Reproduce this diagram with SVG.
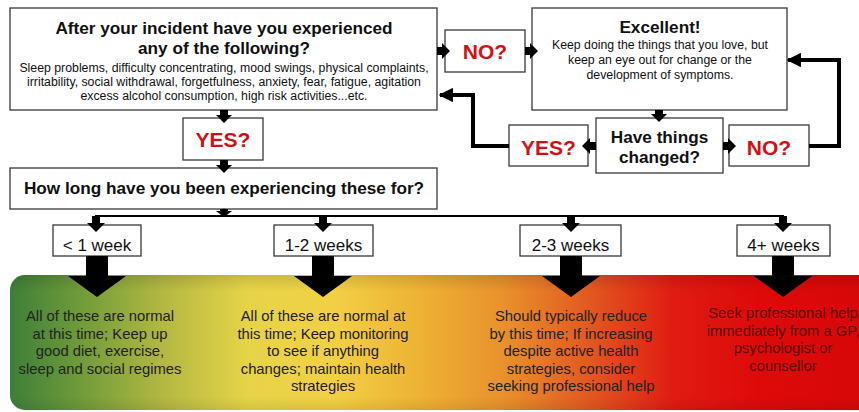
<svg xmlns="http://www.w3.org/2000/svg" width="859" height="412" viewBox="0 0 859 412">
<defs>
<linearGradient id="band" gradientUnits="userSpaceOnUse" x1="10" y1="0" x2="859" y2="0">
<stop offset="0" stop-color="#3d7f38"/>
<stop offset="0.08" stop-color="#6e9a3a"/>
<stop offset="0.18" stop-color="#b3b842"/>
<stop offset="0.28" stop-color="#e6d448"/>
<stop offset="0.38" stop-color="#f2d044"/>
<stop offset="0.48" stop-color="#eeb334"/>
<stop offset="0.58" stop-color="#e8922c"/>
<stop offset="0.68" stop-color="#e25a20"/>
<stop offset="0.78" stop-color="#e01c12"/>
<stop offset="0.88" stop-color="#de0a0a"/>
<stop offset="1" stop-color="#d80808"/>
</linearGradient>
<linearGradient id="shade" x1="0" y1="0" x2="0" y2="1">
<stop offset="0" stop-color="#000" stop-opacity="0.12"/>
<stop offset="0.12" stop-color="#000" stop-opacity="0"/>
<stop offset="0.9" stop-color="#000" stop-opacity="0"/>
<stop offset="1" stop-color="#000" stop-opacity="0.08"/>
</linearGradient>
<marker id="ah" viewBox="0 0 10 10" refX="9" refY="5" markerWidth="3.6" markerHeight="3.6" orient="auto" markerUnits="strokeWidth">
<path d="M0,0 L10,5 L0,10 z" fill="#000"/>
</marker>
</defs>
<style>
.box{fill:#fff;stroke:#3a3a3a;stroke-width:1.3}
.t{font-family:"Liberation Sans",Arial,sans-serif;text-anchor:middle;fill:#111}
.h{font-size:17.2px;font-weight:bold}
.s{font-size:12.3px}
.r{font-size:21px;font-weight:bold;fill:#d40f14}
.w{font-size:17px}
.c{font-size:14.8px;fill:#222}
.c4{font-size:14.8px;fill:#5a0808}
.line{fill:none;stroke:#000;stroke-width:4;marker-end:url(#ah)}
.thin{fill:none;stroke:#000;stroke-width:2}
.blk{fill:#000}
</style>
<rect width="859" height="412" fill="#fff"/>

<g id="band-bg">
<rect x="10" y="275" width="870" height="135" rx="15" fill="url(#band)"/>
<rect x="10" y="275" width="870" height="135" rx="15" fill="url(#shade)"/>
</g>

<g id="n-incident">
<rect class="box" x="10" y="8" width="427" height="102"/>
<text class="t h" x="224" y="34">After your incident have you experienced</text>
<text class="t h" x="224" y="54">any of the following?</text>
<text class="t s" x="224" y="72">Sleep problems, difficulty concentrating, mood swings, physical complaints,</text>
<text class="t s" x="224" y="86">irritability, social withdrawal, forgetfulness, anxiety, fear, fatigue, agitation</text>
<text class="t s" x="224" y="99.5">excess alcohol consumption, high risk activities...etc.</text>
</g>

<g id="n-no1">
<rect class="box" x="445" y="30" width="80" height="42"/>
<text class="t r" x="485" y="59">NO?</text>
</g>

<g id="n-excellent">
<rect class="box" x="532" y="8" width="255" height="102"/>
<text class="t h" x="660" y="33">Excellent!</text>
<text class="t s" x="660" y="49">Keep doing the things that you love, but</text>
<text class="t s" x="660" y="64">keep an eye out for change or the</text>
<text class="t s" x="660" y="79">development of symptoms.</text>
</g>

<g id="n-changed">
<rect class="box" x="596" y="118" width="127" height="55"/>
<text class="t h" x="659.5" y="143">Have things</text>
<text class="t h" x="659.5" y="163">changed?</text>
</g>

<g id="n-yes2">
<rect class="box" x="509" y="125" width="79" height="41"/>
<text class="t r" x="548.5" y="155">YES?</text>
</g>

<g id="n-no2">
<rect class="box" x="729" y="125" width="80" height="41"/>
<text class="t r" x="769" y="155">NO?</text>
</g>

<g id="n-yes1">
<rect class="box" x="183" y="118" width="80" height="42"/>
<text class="t r" x="223" y="147">YES?</text>
</g>

<g id="n-howlong">
<rect class="box" x="10" y="168" width="427" height="41"/>
<text class="t h" x="224" y="194">How long have you been experiencing these for?</text>
</g>

<g id="n-w1">
<rect class="box" x="53" y="225" width="88" height="31"/>
<text class="t w" x="97" y="251">&lt; 1 week</text>
</g>
<g id="n-w2">
<rect class="box" x="274" y="225" width="99" height="31"/>
<text class="t w" x="323.5" y="251">1-2 weeks</text>
</g>
<g id="n-w3">
<rect class="box" x="520" y="225" width="101" height="31"/>
<text class="t w" x="570.5" y="251">2-3 weeks</text>
</g>
<g id="n-w4">
<rect class="box" x="737" y="225" width="93" height="31"/>
<text class="t w" x="783.5" y="251">4+ weeks</text>
</g>

<g id="n-r1">
<text class="t c" x="100" y="321">All of these are normal</text>
<text class="t c" x="100" y="338.5">at this time; Keep up</text>
<text class="t c" x="100" y="356">good diet, exercise,</text>
<text class="t c" x="100" y="373.5">sleep and social regimes</text>
</g>
<g id="n-r2">
<text class="t c" x="323" y="321">All of these are normal at</text>
<text class="t c" x="323" y="338.5">this time; Keep monitoring</text>
<text class="t c" x="323" y="356">to see if anything</text>
<text class="t c" x="323" y="373.5">changes; maintain health</text>
<text class="t c" x="323" y="391">strategies</text>
</g>
<g id="n-r3">
<text class="t c" x="571" y="321">Should typically reduce</text>
<text class="t c" x="571" y="338.5">by this time; If increasing</text>
<text class="t c" x="571" y="356">despite active health</text>
<text class="t c" x="571" y="373.5">strategies, consider</text>
<text class="t c" x="571" y="391">seeking professional help</text>
</g>
<g id="n-r4">
<text class="t c4" x="783" y="318">Seek professional help</text>
<text class="t c4" x="783" y="335.5">immediately from a GP,</text>
<text class="t c4" x="783" y="353">psychologist or</text>
<text class="t c4" x="783" y="370.5">counsellor</text>
</g>

<g id="connectors">
<polygon class="blk" points="437,47 442,47 442,43 450,51 442,59 442,55 437,55"/>
<polygon class="blk" points="525,47 530,47 530,43 538,51 530,59 530,55 525,55"/>
<polygon class="blk" points="655,110 655,114 651,114 659,122 667,114 663,114 663,110"/>
<polygon class="blk" points="596,142 590,142 590,138 582,146 590,154 590,150 596,150"/>
<polygon class="blk" points="723,142 728,142 728,138 736,146 728,154 728,150 723,150"/>
<polyline class="line" points="509,146 473,146 473,95 440,95"/>
<polyline class="line" points="809,146 839,146 839,60 788,60"/>
<polygon class="blk" points="220,110 220,115 216,115 224,123 232,115 228,115 228,110"/>
<polygon class="blk" points="220,160 220,165 216,165 224,173 232,165 228,165 228,160"/>
<polygon class="blk" points="220,209 220,211 216,211 224,217 232,211 228,211 228,209"/>
<polyline class="thin" points="96,222 96,216 783,216 783,222"/>
<polygon class="blk" points="92,216 92,223 87,223 96,232 105,223 100,223 100,216"/>
<polygon class="blk" points="319,216 319,223 314,223 323,232 332,223 327,223 327,216"/>
<polygon class="blk" points="567,216 567,223 562,223 571,232 580,223 575,223 575,216"/>
<polygon class="blk" points="779,216 779,223 774,223 783,232 792,223 787,223 787,216"/>
<polygon class="blk" points="86,256 108,256 108,276 126,276 97,297 68,276 86,276"/>
<polygon class="blk" points="312,256 334,256 334,276 352,276 323,297 294,276 312,276"/>
<polygon class="blk" points="560,256 582,256 582,276 600,276 571,297 542,276 560,276"/>
<polygon class="blk" points="772,256 794,256 794,276 812,276 783,297 754,276 772,276"/>
</g>
</svg>
